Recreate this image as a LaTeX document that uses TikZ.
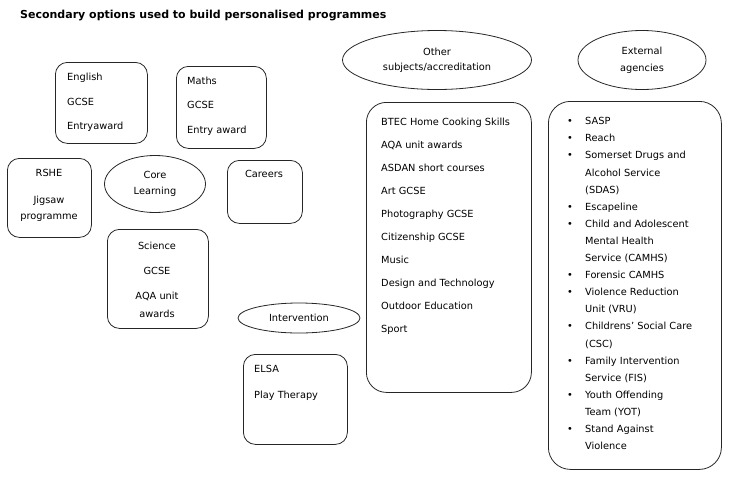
\documentclass[tikz,border=0pt]{standalone}
\usepackage{fontspec}
\setmainfont{DejaVu Sans}
\usetikzlibrary{shapes.geometric}
\tikzset{every picture/.style={x=1pt, y=-1pt}}
\tikzset{box/.style={draw=black!85, line width=0.8pt, rectangle, rounded corners=12pt, anchor=north west, inner sep=0pt}}
\tikzset{bubble/.style={draw=black!85, line width=0.8pt, ellipse, inner sep=0pt, align=center, font=\fontsize{9.8}{16}\selectfont}}
\tikzset{txt/.style={inner sep=0pt, font=\fontsize{9.8}{11}\selectfont}}

\begin{document}
\begin{tikzpicture}
\useasboundingbox (0,0) rectangle (730,488);
\node[txt, anchor=base west, font=\bfseries\fontsize{11}{13}\selectfont] (title) at (20,18) {Secondary options used to build personalised programmes};

% core learning
\node[bubble, minimum width=101pt, minimum height=57pt] (core) at (155,184) {Core\\Learning};
\node[box, minimum width=92pt, minimum height=81pt] (english) at (55,62) {};
\foreach \t/\y [count=\i] in {English/78, GCSE/103, Entryaward/127}
    \node[txt, anchor=mid west] (eng\i) at (67,\y) {\t};
\node[box, minimum width=90pt, minimum height=82pt] (maths) at (176,66) {};
\foreach \t/\y [count=\i] in {Maths/82, GCSE/106, Entry award/131}
    \node[txt, anchor=mid west] (mat\i) at (187,\y) {\t};
\node[box, minimum width=84pt, minimum height=79pt] (rshe) at (7,158) {};
\foreach \t/\y [count=\i] in {RSHE/174, Jigsaw/201, programme/217}
    \node[txt, anchor=mid] (rsh\i) at (49,\y) {\t};
\node[box, minimum width=75pt, minimum height=63pt] (careers) at (227,160) {};
\node[txt, anchor=mid] (car1) at (264,175) {Careers};
\node[box, minimum width=101pt, minimum height=99pt] (science) at (107,229) {};
\foreach \t/\y [count=\i] in {Science/247, GCSE/272, AQA unit/297, awards/315}
    \node[txt, anchor=mid] (sci\i) at (157,\y) {\t};

% intervention
\node[bubble, minimum width=122pt, minimum height=30pt] (intervention) at (299,318) {Intervention};
\node[box, minimum width=104pt, minimum height=90pt] (elsa) at (243,354) {};
\foreach \t/\y [count=\i] in {ELSA/370, Play Therapy/396}
    \node[txt, anchor=mid west] (els\i) at (254,\y) {\t};

% other subjects
\node[bubble, minimum width=189pt, minimum height=59pt, font=\fontsize{9.8}{15}\selectfont] (othersub) at (437,60) {Other\\subjects/accreditation};
\node[box, rounded corners=20pt, minimum width=165pt, minimum height=290pt] (other) at (366,102) {};
\foreach \t [count=\i] in {BTEC Home Cooking Skills, AQA unit awards, ASDAN short courses,
    Art GCSE, Photography GCSE, Citizenship GCSE, Music, Design and Technology,
    Outdoor Education, Sport}
    \node[txt, anchor=mid west] (oth\i) at (381,{123+23*(\i-1)}) {\t};

% external agencies
\node[bubble, minimum width=128pt, minimum height=59pt, font=\fontsize{9.8}{17}\selectfont] (external) at (642,60) {External\\agencies};
\node[box, rounded corners=22pt, minimum width=173pt, minimum height=368pt] (agencies) at (548,101) {};
\foreach \b/\t [count=\i] in {1/SASP, 1/Reach, 1/Somerset Drugs and, 0/Alcohol Service, 0/{(SDAS)},
    1/Escapeline, 1/Child and Adolescent, 0/Mental Health, 0/{Service (CAMHS)},
    1/Forensic CAMHS, 1/Violence Reduction, 0/{Unit (VRU)}, 1/Childrens' Social Care,
    0/{(CSC)}, 1/Family Intervention, 0/{Service (FIS)}, 1/Youth Offending,
    0/{Team (YOT)}, 1/Stand Against, 0/Violence} {
    \node[txt, anchor=mid west] (ext\i) at (585,{122+17.1*(\i-1)}) {\t};
    \ifnum\b=1
        \node[txt, anchor=mid] (bul\i) at (570,{122+17.1*(\i-1)}) {\textbullet};
    \fi
}
\end{tikzpicture}
\end{document}
